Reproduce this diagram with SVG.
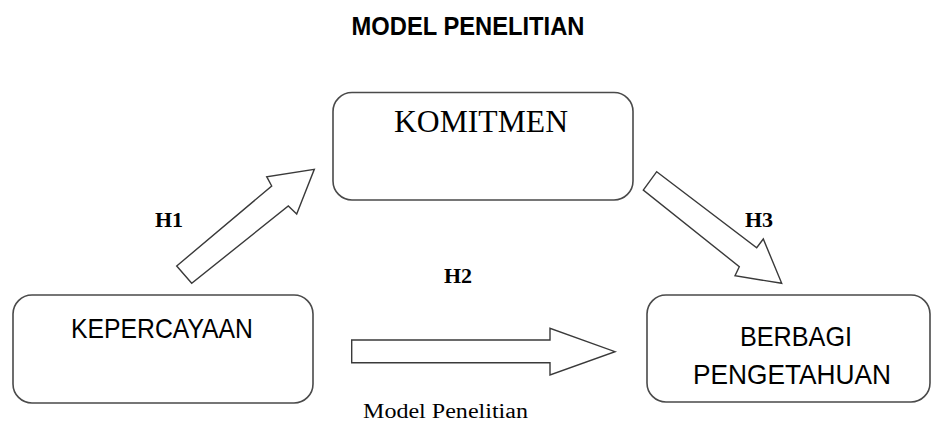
<svg xmlns="http://www.w3.org/2000/svg" width="933" height="421" viewBox="0 0 933 421">
<style>
.box{fill:#fff;stroke:#4a4a4a;stroke-width:1.6}
.arr{fill:#fff;stroke:#3a3a3a;stroke-width:1.4;stroke-linejoin:miter}
.sans{font-family:"Liberation Sans",Arial,sans-serif;fill:#000}
.serif{font-family:"Liberation Serif","Times New Roman",serif;fill:#000}
.h{font-family:"Liberation Serif","Times New Roman",serif;font-weight:bold;font-size:22px;fill:#000}
</style>
<rect width="933" height="421" fill="#fff"/>
<text class="sans" x="351.5" y="35" font-size="25" font-weight="bold" textLength="233" lengthAdjust="spacingAndGlyphs">MODEL PENELITIAN</text>
<g id="komitmen">
<rect class="box" x="333" y="92.5" width="300" height="107.5" rx="19"/>
<text class="serif" x="394" y="131.5" font-size="31" textLength="174" lengthAdjust="spacingAndGlyphs">KOMITMEN</text>
</g>
<g id="kepercayaan">
<rect class="box" x="13" y="295" width="300" height="108" rx="19"/>
<text class="sans" x="71" y="338" font-size="28" textLength="182" lengthAdjust="spacingAndGlyphs">KEPERCAYAAN</text>
</g>
<g id="berbagi">
<rect class="box" x="647" y="295" width="283" height="107" rx="19"/>
<text class="sans" x="740" y="346" font-size="28" textLength="112" lengthAdjust="spacingAndGlyphs">BERBAGI</text>
<text class="sans" x="693" y="384" font-size="28" textLength="198" lengthAdjust="spacingAndGlyphs">PENGETAHUAN</text>
</g>
<g id="connectors">
<polygon class="arr" points="176.7,266 271.7,186 266.7,176.7 314.3,169.3 296.7,214 288.3,206 191.7,283.3"/>
<polygon class="arr" points="656.7,171.7 756.7,247.7 763.3,239 781.7,283.3 735,275.7 739.3,266.7 643.3,190"/>
<polygon class="arr" points="351.7,340 550,340 550,328.3 615,351.7 550,375 550,362.7 351.7,362.7"/>
</g>
<text class="h" x="155" y="227">H1</text>
<text class="h" x="444" y="283">H2</text>
<text class="h" x="745" y="227">H3</text>
<text class="serif" x="363" y="418" font-size="20" textLength="165" lengthAdjust="spacingAndGlyphs">Model Penelitian</text>
</svg>
